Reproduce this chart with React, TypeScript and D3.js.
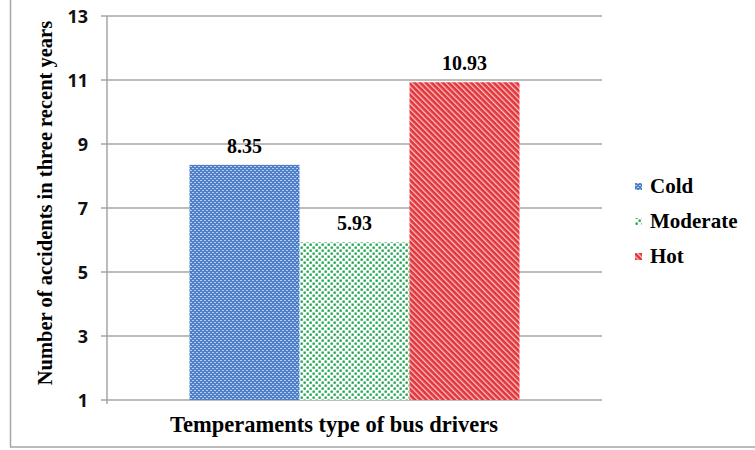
import React from "react";
import * as d3 from "d3";

const category = "Temperaments type of bus drivers";
const seriesNames = ["Cold", "Moderate", "Hot"];
const seriesValues = [8.35, 5.93, 10.93];
const yTicks = [1, 3, 5, 7, 9, 11, 13];
const yTitle = "Number of accidents in three recent years";

const W = 755;
const H = 450;
const plot = { left: 107, right: 602, top: 16, bottom: 400 };

const serif = "'Liberation Serif', 'Times New Roman', serif";
const sans = "'Open Sans', 'Liberation Sans', Arial, sans-serif";

export default function App() {
  const y = d3.scaleLinear().domain([1, 13]).range([plot.bottom, plot.top]);
  const x0 = d3
    .scaleBand<string>()
    .domain([category])
    .range([plot.left, plot.right])
    .paddingInner(0)
    .paddingOuter(0.25);
  const x1 = d3
    .scaleBand<string>()
    .domain(seriesNames)
    .range([x0(category)!, x0(category)! + x0.bandwidth()])
    .padding(0);
  const patIds = ["patCold", "patMod", "patHot"];

  return (
    <svg
      width={W}
      height={H}
      style={{ position: "absolute", left: 0, top: 0, background: "#fff" }}
    >
      <defs>
        <pattern id="patCold" width={4} height={4} patternUnits="userSpaceOnUse">
          <rect width={4} height={4} fill="#4F7FC8" />
          <rect x={0} y={0} width={2} height={1} fill="#B9CDEE" />
          <rect x={2} y={2} width={2} height={1} fill="#B9CDEE" />
        </pattern>
        <pattern id="patMod" width={6} height={6} patternUnits="userSpaceOnUse">
          <rect width={6} height={6} fill="#fff" />
          <rect x={0.5} y={0.5} width={2.3} height={2.3} fill="#19A44C" />
          <rect x={3.5} y={3.5} width={2.3} height={2.3} fill="#19A44C" />
        </pattern>
        <pattern
          id="patHot"
          width={4}
          height={4}
          patternUnits="userSpaceOnUse"
          patternTransform="rotate(45)"
        >
          <rect width={4} height={4} fill="#F6C6C6" />
          <rect x={0} y={0} width={4} height={2.7} fill="#E3343A" />
        </pattern>
      </defs>

      {/* outer border */}
      <rect x={10.5} y={-2} width={W + 5} height={449} fill="none" stroke="#A6A6A6" strokeWidth={1.5} />

      {/* gridlines */}
      {yTicks.map((t) => (
        <line
          key={t}
          x1={plot.left - 6}
          x2={plot.right}
          y1={y(t)}
          y2={y(t)}
          stroke="#A6A6A6"
          strokeWidth={1.5}
        />
      ))}
      {/* y axis line */}
      <line x1={plot.left} x2={plot.left} y1={plot.top} y2={plot.bottom + 4} stroke="#A6A6A6" strokeWidth={1.5} />

      {/* tick labels */}
      {yTicks.map((t) => (
        <text
          key={"l" + t}
          x={88}
          y={y(t)}
          dy="0.37em"
          textAnchor="end"
          fontFamily={sans}
          fontWeight="bold"
          fontSize={18}
          fill="#111"
        >
          {t}
        </text>
      ))}

      {/* bars */}
      {seriesNames.map((s, i) => (
        <rect
          key={s}
          x={x1(s)!}
          y={y(seriesValues[i])}
          width={x1.bandwidth()}
          height={y(1) - y(seriesValues[i])}
          fill={`url(#${patIds[i]})`}
        />
      ))}

      {/* value labels */}
      {seriesNames.map((s, i) => (
        <text
          key={"v" + s}
          x={x1(s)! + x1.bandwidth() / 2}
          y={y(seriesValues[i]) - 12}
          textAnchor="middle"
          fontFamily={serif}
          fontWeight="bold"
          fontSize={20}
          fill="#000"
        >
          {seriesValues[i].toFixed(2)}
        </text>
      ))}

      {/* x title */}
      <text
        x={334}
        y={432}
        textAnchor="middle"
        fontFamily={serif}
        fontWeight="bold"
        fontSize={22.5}
        fill="#000"
      >
        {category}
      </text>

      {/* y title */}
      <text
        transform={`translate(52, ${203}) rotate(-90)`}
        textAnchor="middle"
        fontFamily={serif}
        fontWeight="bold"
        fontSize={20.5}
        fill="#000"
      >
        {yTitle}
      </text>

      {/* legend */}
      {seriesNames.map((s, i) => (
        <g key={"lg" + s} transform={`translate(635, ${193 + i * 35})`}>
          <rect x={0} y={-10} width={7} height={7} fill={`url(#${patIds[i]})`} />
          <text x={15} y={0} fontFamily={serif} fontWeight="bold" fontSize={21} fill="#000">
            {s}
          </text>
        </g>
      ))}
    </svg>
  );
}
